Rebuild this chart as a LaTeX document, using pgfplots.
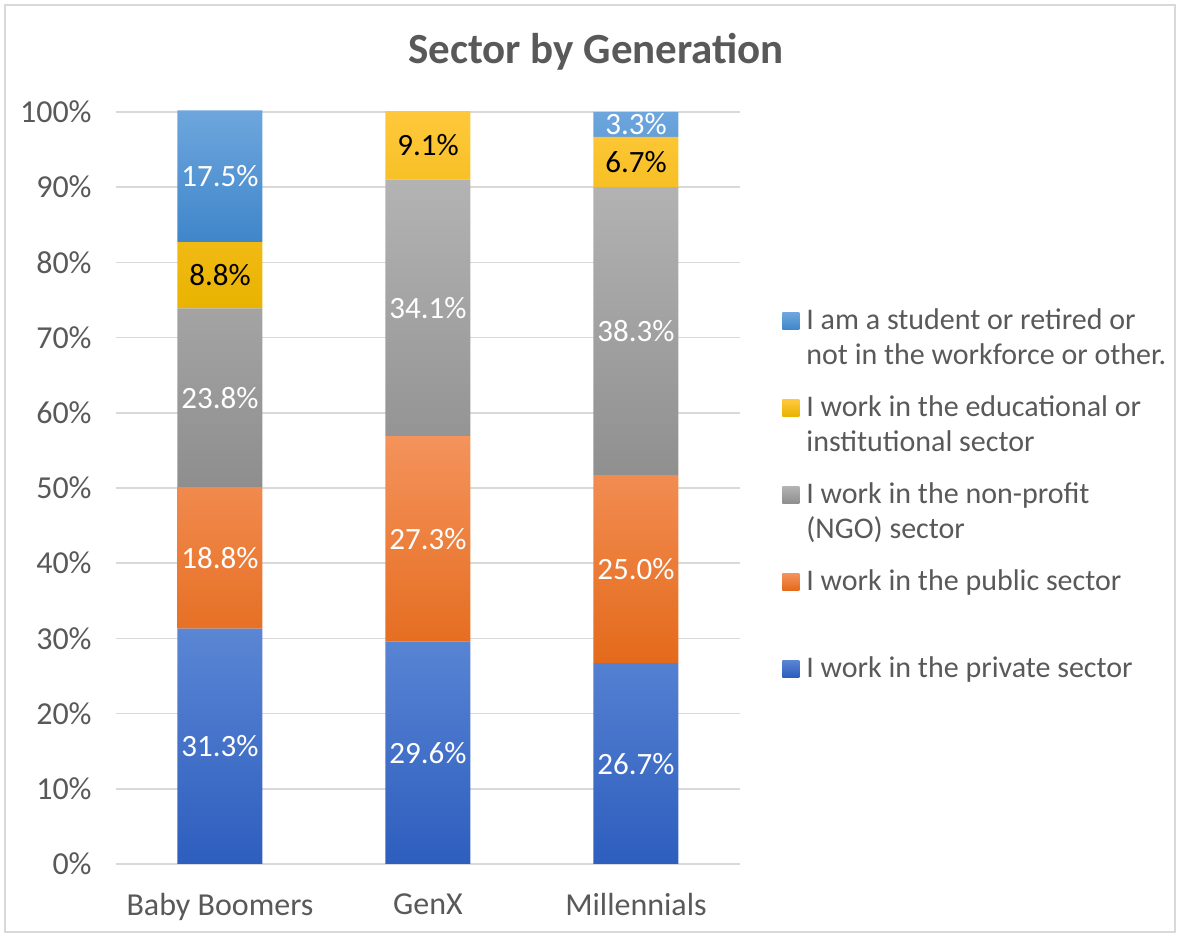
\documentclass[border=0pt]{standalone}
\usepackage{pgfplots}
\pgfplotsset{compat=1.18}
\usepackage{fontspec}
\setmainfont{Carlito}

\definecolor{txtgray}{HTML}{595959}
\definecolor{gridgray}{HTML}{D9D9D9}
\definecolor{privtop}{HTML}{5A86D4}
\definecolor{privbot}{HTML}{2E5EBE}
\definecolor{pubtop}{HTML}{F4935C}
\definecolor{pubbot}{HTML}{E46A1B}
\definecolor{ngotop}{HTML}{B3B3B3}
\definecolor{ngobot}{HTML}{8E8E8E}
\definecolor{edutop}{HTML}{FFC83C}
\definecolor{edubot}{HTML}{E9B300}
\definecolor{stutop}{HTML}{6EA6DD}
\definecolor{stubot}{HTML}{3F86CA}

\begin{document}
\begin{tikzpicture}
% page frame (1px = 0.5pt)
\draw[gridgray, line width=0.75pt] (2.5pt,2.5pt) rectangle (587.5pt,466pt);
\node[font=\bfseries\fontsize{21.5}{25}\selectfont, text=txtgray] at (298pt,442.5pt) {Sector by Generation};

\begin{axis}[
    at={(58pt,36.5pt)}, anchor=south west,
    scale only axis, width=312pt, height=376pt,
    ybar stacked, bar width=42.5pt,
    xmin=-0.5, xmax=2.5, ymin=0, ymax=100,
    xtick={0,1,2}, xticklabels={Baby Boomers,GenX,Millennials},
    ytick={0,10,...,100},
    yticklabel={\pgfmathprintnumber{\tick}\%},
    /pgf/number format/assume math mode=true,
    ymajorgrids, grid style={gridgray, line width=0.75pt},
    axis lines*=left,
    x axis line style={gridgray, line width=0.75pt, -},
    y axis line style={draw=none},
    major tick length=0pt,
    tick label style={font=\fontsize{16}{19}\selectfont, text=txtgray, inner sep=0pt},
    yticklabel style={xshift=-12pt},
    xticklabel style={yshift=-14.5pt},
    clip=false,
    point meta=explicit symbolic,
    nodes near coords,
    every node near coord/.style={font=\fontsize{15.5}{18}\selectfont, text=white,
        anchor=center, inner sep=0pt},
    reverse legend,
    legend image code/.code={\path (0pt,0pt); \draw[#1,draw=none] (0pt,17.5pt) rectangle (8.5pt,26pt);},
    legend style={at={(rel axis cs:1.0673,0.744)}, anchor=north west,
        draw=none, fill=none, inner sep=0pt, column sep=1.5pt, row sep=10pt,
        font=\fontsize{15}{17.5}\selectfont, text=txtgray,
        cells={anchor=base west, align=left}},
]
\addplot[draw=none, top color=privtop, bottom color=privbot]
    coordinates {(0,31.3) [31.3\%] (1,29.6) [29.6\%] (2,26.7) [26.7\%]};
\addlegendentry{I work in the private sector\\\mbox{}}
\addplot[draw=none, top color=pubtop, bottom color=pubbot]
    coordinates {(0,18.8) [18.8\%] (1,27.3) [27.3\%] (2,25.0) [25.0\%]};
\addlegendentry{I work in the public sector\\\mbox{}}
\addplot[draw=none, top color=ngotop, bottom color=ngobot]
    coordinates {(0,23.8) [23.8\%] (1,34.1) [34.1\%] (2,38.3) [38.3\%]};
\addlegendentry{I work in the non-profit\\(NGO) sector}
\addplot[draw=none, top color=edutop, bottom color=edubot,
    every node near coord/.append style={text=black}]
    coordinates {(0,8.8) [8.8\%] (1,9.1) [9.1\%] (2,6.7) [6.7\%]};
\addlegendentry{I work in the educational or\\institutional sector}
\addplot[draw=none, top color=stutop, bottom color=stubot]
    coordinates {(0,17.5) [17.5\%] (1,0) [{}] (2,3.3) [3.3\%]};
\addlegendentry{I am a student or retired or\\not in the workforce or other.}
\end{axis}
\pgfresetboundingbox
\path[use as bounding box] (0pt,0pt) rectangle (590pt,468.5pt);
\end{tikzpicture}
\end{document}
